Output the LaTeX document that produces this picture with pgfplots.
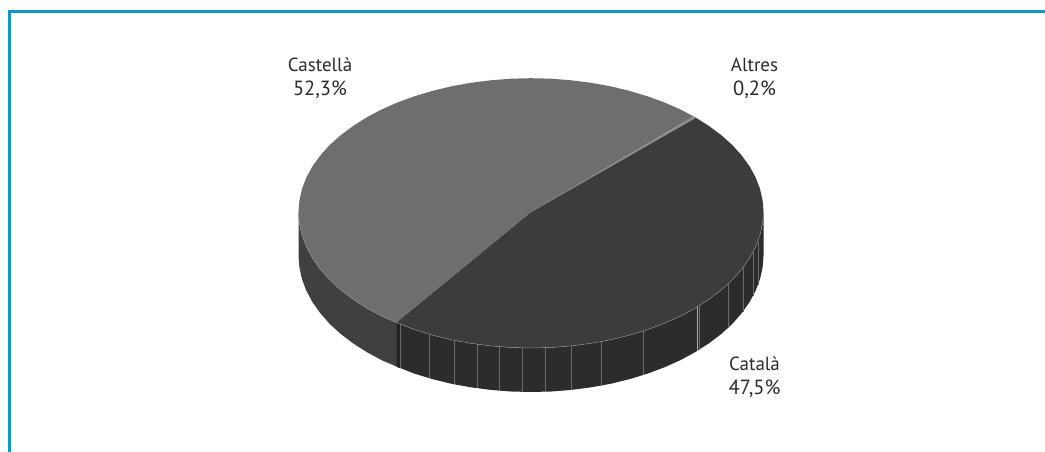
\documentclass[border=0pt]{standalone}
\usepackage{fontspec}
\setmainfont{PT Sans}
\usepackage{pgfplots}
\pgfplotsset{compat=1.18}
\definecolor{frameblue}{HTML}{1296C1}
\definecolor{topcast}{HTML}{6E6E6E}
\definecolor{topcat}{HTML}{3C3C3C}
\definecolor{sidecast}{HTML}{404040}
\definecolor{sidecat}{HTML}{2C2C2C}
\definecolor{sidedark}{HTML}{222222}
\definecolor{altres}{HTML}{909090}
\definecolor{txt}{HTML}{2A2A2A}
\newcommand{\pct}[1]{{\fontsize{20.5}{24}\selectfont #1}}
\begin{document}
\begin{tikzpicture}
\begin{axis}[
  width=1045pt,height=452pt,scale only axis,
  xmin=0,xmax=1045,ymin=0,ymax=452,y dir=reverse,
  hide axis,unbounded coords=jump,
  every axis plot/.append style={no marks}
]
% keeps the page at the full size
\path (axis cs:0,0) rectangle (axis cs:1045,452);
% frame
\addplot[frameblue,line width=2.7pt] coordinates {(1045,11.3)(9.5,11.3)(9.5,452)};
% side Castella
\addplot[fill=sidecast,draw=none] coordinates {
(298.5,211.5)(299.4,223.4)(302,235.2)(306.4,246.8)(312.5,258.2)(320.3,269.2)(329.6,279.8)(340.5,289.8)(352.9,299.2)(366.6,308)(381.5,316.1)(396.3,322.5)
(396.3,366.5)(381.5,360.1)(366.6,352)(352.9,343.2)(340.5,333.8)(329.6,323.8)(320.3,313.2)(312.5,302.2)(306.4,290.8)(302,279.2)(299.4,267.4)(298.5,255.5)};
% side Catala
\addplot[fill=sidecat,draw=none] coordinates {
(396.3,322.5)(414.7,329.7)(432.7,335.2)(451.5,339.8)(470.8,343.3)(490.6,345.9)(510.7,347.5)(531,348)(551.3,347.5)(571.4,345.9)(591.2,343.3)(610.5,339.8)(629.3,335.2)(647.3,329.7)(664.4,323.3)(680.5,316.1)(695.4,308)(709.1,299.2)(721.5,289.8)(732.4,279.8)(741.7,269.2)(749.5,258.2)(755.6,246.8)(760,235.2)(762.6,223.4)(763.5,211.5)
(763.5,255.5)(762.6,267.4)(760,279.2)(755.6,290.8)(749.5,302.2)(741.7,313.2)(732.4,323.8)(721.5,333.8)(709.1,343.2)(695.4,352)(680.5,360.1)(664.4,367.3)(647.3,373.7)(629.3,379.2)(610.5,383.8)(591.2,387.3)(571.4,389.9)(551.3,391.5)(531,392)(510.7,391.5)(490.6,389.9)(470.8,387.3)(451.5,383.8)(432.7,379.2)(414.7,373.7)(396.3,366.5)};
% darker strip at the split
\addplot[fill=sidedark,draw=none] coordinates {(396.3,322.5)(400,324.2)(400,368.2)(396.3,366.5)};
% segment lines on the side
\addplot[color=white!30!sidecat,line width=0.5pt] coordinates {
(400,324.3)(400,368.3)(400,nan)
(429,334.2)(429,378.2)(429,nan)
(454,340.3)(454,384.3)(454,nan)
(477,344.3)(477,388.3)(477,nan)
(499,346.7)(499,390.7)(499,nan)
(522,347.9)(522,391.9)(522,nan)
(545,347.8)(545,391.8)(545,nan)
(571,346)(571,390)(571,nan)
(601,341.7)(601,385.7)(601,nan)
(643,331.1)(643,375.1)(643,nan)
(699,305.9)(699,349.9)(699,nan)
(728,284)(728,328)(728,nan)
(743,267.5)(743,311.5)(743,nan)
(753,252.1)(753,296.1)(753,nan)
(758,241)(758,285)};
\addplot[color=white!60!sidecat,line width=0.6pt] coordinates {(697,307.1)(697,351.1)};
% top Catala
\addplot[fill=topcat,draw=none] coordinates {
(531,212)(396.3,322.5)(414.7,329.7)(432.7,335.2)(451.5,339.8)(470.8,343.3)(490.6,345.9)(510.7,347.5)(531,348)(551.3,347.5)(571.4,345.9)(591.2,343.3)(610.5,339.8)(629.3,335.2)(647.3,329.7)(664.4,323.3)(680.5,316.1)(695.4,308)(709.1,299.2)(721.5,289.8)(732.4,279.8)(741.7,269.2)(749.5,258.2)(755.6,246.8)(760,235.2)(762.6,223.4)(763.5,211.5)(762.6,200.3)(760,188.8)(755.6,177.4)(749.5,166.2)(741.7,155.5)(732.4,145.1)(721.5,135.3)(709.1,126.1)(695.4,117.4)};
% top Castella
\addplot[fill=topcast,draw=none] coordinates {
(531,212)(695.4,117.4)(680.5,109.5)(664.4,102.4)(647.3,96.2)(629.3,90.8)(610.5,86.3)(591.2,82.8)(571.4,80.3)(551.3,78.7)(531,78.2)(510.7,78.7)(490.6,80.3)(470.8,82.8)(451.5,86.3)(432.7,90.8)(414.7,96.2)(397.6,102.4)(381.5,109.5)(366.6,117.4)(352.9,126.1)(340.5,135.3)(329.6,145.1)(320.3,155.5)(312.5,166.2)(306.4,177.4)(302,188.8)(299.4,200.3)(298.5,211.5)(299.4,223.4)(302,235.2)(306.4,246.8)(312.5,258.2)(320.3,269.2)(329.6,279.8)(340.5,289.8)(352.9,299.2)(366.6,308)(381.5,316.1)(396.3,322.5)};
% Altres sliver
\addplot[fill=altres,draw=none] coordinates {(531,212)(693.3,116.3)(695.8,117.9)};
% rim
\addplot[color=white!45!topcat,line width=0.4pt] coordinates {
(298.5,211.5)(299.4,223.4)(302,235.2)(306.4,246.8)(312.5,258.2)(320.3,269.2)(329.6,279.8)(340.5,289.8)(352.9,299.2)(366.6,308)(381.5,316.1)(396.3,322.5)(414.7,329.7)(432.7,335.2)(451.5,339.8)(470.8,343.3)(490.6,345.9)(510.7,347.5)(531,348)(551.3,347.5)(571.4,345.9)(591.2,343.3)(610.5,339.8)(629.3,335.2)(647.3,329.7)(664.4,323.3)(680.5,316.1)(695.4,308)(709.1,299.2)(721.5,289.8)(732.4,279.8)(741.7,269.2)(749.5,258.2)(755.6,246.8)(760,235.2)(762.6,223.4)(763.5,211.5)};
% labels
\node[align=center,font=\fontsize{19}{24}\selectfont,text=txt] at (axis cs:320,78.5) {Castellà\\\pct{52,3\%}};
\node[align=center,font=\fontsize{19}{24}\selectfont,text=txt] at (axis cs:754.5,78.5) {Altres\\\pct{0,2\%}};
\node[align=center,font=\fontsize{19}{24}\selectfont,text=txt] at (axis cs:754.5,377.5) {Català\\\pct{47,5\%}};
\end{axis}
\end{tikzpicture}
\end{document}
